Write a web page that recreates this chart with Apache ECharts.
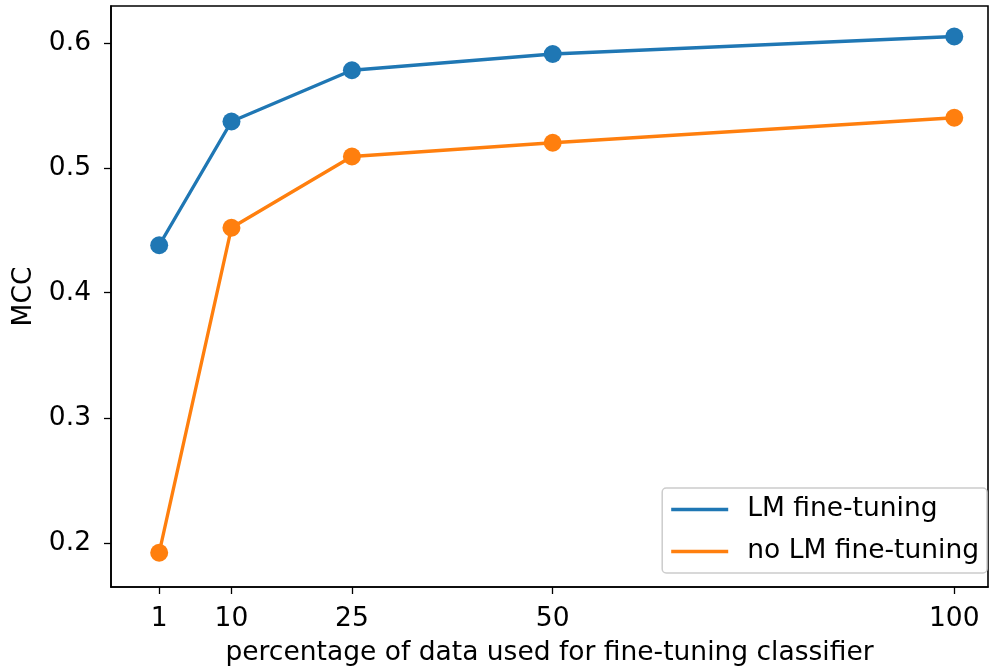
<!DOCTYPE html>
<html>
<head>
<meta charset="utf-8">
<script src="https://cdn.jsdelivr.net/npm/echarts@6/dist/echarts.min.js"></script>
<style>
  html, body { margin: 0; padding: 0; background: #fff; }
  #chart { width: 990px; height: 668px; }
</style>
</head>
<body>
<div id="chart"></div>
<script>
// Percentage of training data used when fine-tuning the classifier
const percentages = [1, 10, 25, 50, 100];
// MCC scores per setting
const lmFineTuning = [0.438, 0.537, 0.578, 0.591, 0.605];
const noLmFineTuning = [0.192, 0.452, 0.509, 0.520, 0.540];
const yTicks = [0.2, 0.3, 0.4, 0.5, 0.6];
const seriesNames = ['LM fine-tuning', 'no LM fine-tuning'];

const FONT = 'DejaVu Sans';
const FS = 26.5;
const pairs = (ys) => percentages.map((x, i) => [x, ys[i]]);

const chart = echarts.init(document.getElementById('chart'), null, { renderer: 'canvas' });
chart.setOption({
  animation: false,
  backgroundColor: '#fff',
  grid: {
    left: 111, top: 6, right: 2, bottom: 81,
    containLabel: false, outerBoundsMode: 'none',
    show: true, borderColor: '#000', borderWidth: 1.6, backgroundColor: 'transparent'
  },
  xAxis: {
    type: 'value',
    min: -5.0, max: 104.2,
    name: 'percentage of data used for fine-tuning classifier',
    nameLocation: 'middle', nameGap: 53,
    nameTextStyle: { fontFamily: FONT, fontSize: FS, color: '#000' },
    axisLine: { show: true, onZero: false, lineStyle: { color: '#000', width: 1.6 } },
    axisTick: { show: true, customValues: percentages, length: 7, lineStyle: { color: '#000', width: 1.3 } },
    axisLabel: { customValues: percentages, fontFamily: FONT, fontSize: FS, color: '#000', margin: 19 },
    splitLine: { show: false }
  },
  yAxis: {
    type: 'value',
    min: 0.1646, max: 0.6294,
    name: 'MCC',
    nameLocation: 'middle', nameGap: 69, nameRotate: 90,
    nameTextStyle: { fontFamily: FONT, fontSize: FS, color: '#000' },
    axisLine: { show: true, onZero: false, lineStyle: { color: '#000', width: 1.6 } },
    axisTick: { show: true, customValues: yTicks, length: 7, lineStyle: { color: '#000', width: 1.3 } },
    axisLabel: {
      customValues: yTicks, fontFamily: FONT, fontSize: FS, color: '#000', margin: 20,
      formatter: (v) => v.toFixed(1)
    },
    splitLine: { show: false }
  },
  legend: {
    orient: 'vertical',
    right: 3, top: 488,
    padding: [8, 8, 8, 9],
    itemGap: 15,
    itemWidth: 57, itemHeight: 3.4,
    backgroundColor: '#fff',
    borderColor: '#cccccc', borderWidth: 1.5, borderRadius: 4,
    textStyle: { fontFamily: FONT, fontSize: FS, color: '#000', padding: [0, 0, 0, 14] },
    data: seriesNames.map((n) => ({ name: n, icon: 'rect' }))
  },
  series: [
    {
      name: seriesNames[0], type: 'line', data: pairs(lmFineTuning),
      color: '#1f77b4', symbol: 'circle', symbolSize: 18,
      lineStyle: { width: 3.4, color: '#1f77b4' }, itemStyle: { color: '#1f77b4' }
    },
    {
      name: seriesNames[1], type: 'line', data: pairs(noLmFineTuning),
      color: '#ff7f0e', symbol: 'circle', symbolSize: 18,
      lineStyle: { width: 3.4, color: '#ff7f0e' }, itemStyle: { color: '#ff7f0e' }
    }
  ]
});
</script>
</body>
</html>
